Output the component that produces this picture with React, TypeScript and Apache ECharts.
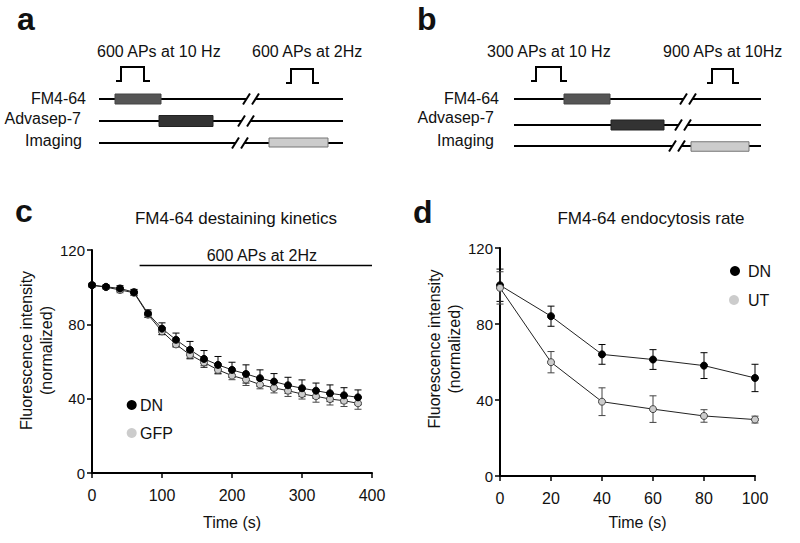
import React, { useEffect, useRef } from 'react';
import * as echarts from 'echarts';

// ---------- Data: panel c (FM4-64 destaining kinetics) ----------
const timeC = [0, 20, 40, 60, 80, 100, 120, 140, 160, 180, 200, 220, 240, 260, 280, 300, 320, 340, 360, 380];
const dnC = [101.1, 100.2, 99.3, 97.3, 85.8, 77.7, 71.7, 66.3, 61.4, 58.2, 55.5, 53.3, 51.0, 49.2, 47.2, 45.6, 44.3, 42.9, 41.8, 40.7];
const gfpC = [101.0, 100.0, 98.5, 97.0, 85.2, 76.2, 69.2, 63.6, 59.5, 55.5, 52.4, 50.3, 47.6, 45.8, 44.3, 42.5, 41.3, 39.8, 38.9, 37.5];
const dnCErr = [1.0, 1.0, 1.5, 1.5, 2.0, 3.1, 3.6, 4.5, 4.5, 4.5, 4.1, 4.9, 4.5, 4.3, 4.3, 4.5, 4.1, 4.5, 4.1, 4.0];
const gfpCErr = [1.0, 1.0, 1.5, 1.5, 1.5, 1.8, 1.5, 2.2, 1.6, 2.2, 2.2, 3.2, 2.3, 2.7, 3.1, 2.7, 3.2, 3.2, 3.1, 3.2];
const stimC = { label: '600 APs at 2Hz', from: 68, to: 400, level: 112 };

// ---------- Data: panel d (FM4-64 endocytosis rate) ----------
const timeD = [0, 20, 40, 60, 80, 100];
const dnD = [100.4, 84.1, 64.0, 61.3, 58.1, 51.6];
const utD = [99.0, 59.9, 39.1, 35.2, 31.6, 29.7];
const dnDErr = [8.5, 5.3, 5.2, 5.2, 6.8, 7.2];
const utDErr = [8.5, 5.6, 7.3, 7.0, 3.3, 1.8];

// ---------- Tick labels ----------
const xTicksC = { min: 0, max: 400, interval: 100 };
const xTicksD = { min: 0, max: 100, interval: 20 };
const yTicks = { min: 0, max: 120, interval: 40 };

const FONT = '"Liberation Sans", Arial, Helvetica, sans-serif';
const INK = '#111';

function errSeries(name: string, xs: number[], ys: number[], es: number[], idx: number, color: string) {
  return {
    type: 'custom',
    name,
    xAxisIndex: idx,
    yAxisIndex: idx,
    z: 1,
    silent: true,
    clip: false,
    data: xs.map((x, i) => [x, ys[i], es[i]]),
    encode: { x: 0, y: 1 },
    renderItem: (_p: any, api: any) => {
      const x = api.value(0);
      const y = api.value(1);
      const e = api.value(2);
      const a = api.coord([x, y + e]);
      const b = api.coord([x, y - e]);
      const w = 3.5;
      const style = { stroke: color, lineWidth: 1, fill: null };
      return {
        type: 'group',
        children: [
          { type: 'line', shape: { x1: a[0], y1: a[1], x2: b[0], y2: b[1] }, style },
          { type: 'line', shape: { x1: a[0] - w, y1: a[1], x2: a[0] + w, y2: a[1] }, style },
          { type: 'line', shape: { x1: b[0] - w, y1: b[1], x2: b[0] + w, y2: b[1] }, style },
        ],
      };
    },
  };
}

function lineSeries(name: string, xs: number[], ys: number[], idx: number, fill: string, border: string, extra: any = {}) {
  return {
    type: 'line',
    name,
    xAxisIndex: idx,
    yAxisIndex: idx,
    z: 3,
    data: xs.map((x, i) => [x, ys[i]]),
    symbol: 'circle',
    symbolSize: 7,
    lineStyle: { color: '#222', width: 1 },
    itemStyle: { color: fill, borderColor: border, borderWidth: 1 },
    ...extra,
  };
}

function xAxis(idx: number, t: any, nameGap: number, namePadLeft: number) {
  return {
    type: 'value',
    gridIndex: idx,
    min: t.min,
    max: t.max,
    interval: t.interval,
    name: 'Time (s)',
    nameLocation: 'middle',
    nameGap,
    nameTextStyle: { fontFamily: FONT, fontSize: 16, color: INK, padding: [0, 0, 0, namePadLeft] },
    axisLine: { show: true, lineStyle: { color: '#000', width: 2 } },
    axisTick: { show: true, inside: false, length: 5, lineStyle: { color: '#000', width: 1.5 } },
    axisLabel: { fontFamily: FONT, fontSize: 16, color: INK, margin: 14 },
    splitLine: { show: false },
  };
}

function yAxis(idx: number, nameGap: number, namePadLeft: number) {
  return {
    type: 'value',
    gridIndex: idx,
    min: yTicks.min,
    max: yTicks.max,
    interval: yTicks.interval,
    name: 'Fluorescence intensity\n(normalized)',
    nameLocation: 'middle',
    nameRotate: 90,
    nameGap,
    nameTextStyle: { fontFamily: FONT, fontSize: 16, color: INK, lineHeight: 20, align: 'center', padding: [0, 0, 0, namePadLeft] },
    axisLine: { show: true, lineStyle: { color: '#000', width: 2 } },
    axisTick: { show: true, inside: false, length: 5, lineStyle: { color: '#000', width: 1.5 } },
    axisLabel: { fontFamily: FONT, fontSize: 15, color: INK, margin: 7 },
    splitLine: { show: false },
  };
}

// ---------- Schematic helpers (panels a and b) ----------
function txt(text: string, x: number, y: number, align: string, size = 16, weight = 'normal') {
  return {
    type: 'text',
    x,
    y,
    silent: true,
    style: { text, fill: INK, fontFamily: FONT, fontSize: size, fontWeight: weight, align, verticalAlign: 'middle' },
  };
}

function pulse(x0: number, y: number, w: number) {
  const pts = [
    [x0, y],
    [x0 + 5, y],
    [x0 + 5, y - 14],
    [x0 + 5 + w, y - 14],
    [x0 + 5 + w, y],
    [x0 + 11 + w, y],
  ];
  return { type: 'polyline', silent: true, shape: { points: pts }, style: { stroke: '#000', lineWidth: 2, fill: null } };
}

function track(x1: number, x2: number, y: number, cx: number) {
  const s = { stroke: '#000', lineWidth: 2 };
  return [
    { type: 'line', silent: true, shape: { x1, y1: y, x2: cx - 4.5, y2: y }, style: s },
    { type: 'line', silent: true, shape: { x1: cx + 4.5, y1: y, x2, y2: y }, style: s },
    { type: 'line', silent: true, shape: { x1: cx - 8, y1: y + 5.5, x2: cx - 1, y2: y - 5.5 }, style: s },
    { type: 'line', silent: true, shape: { x1: cx + 1, y1: y + 5.5, x2: cx + 8, y2: y - 5.5 }, style: s },
  ];
}

function box(x1: number, x2: number, yc: number, h: number, fill: string, stroke: string) {
  return {
    type: 'rect',
    silent: true,
    z: 10,
    shape: { x: x1, y: yc - h / 2, width: x2 - x1, height: h },
    style: { fill, stroke, lineWidth: 1 },
  };
}

function dot(x: number, y: number, fill: string) {
  return { type: 'circle', silent: true, shape: { cx: x, cy: y, r: 5 }, style: { fill, stroke: null } };
}

const graphicEls: any[] = [
  // panel letters
  txt('a', 17, 19, 'left', 32, 'bold'),
  txt('b', 417, 19, 'left', 32, 'bold'),
  txt('c', 15, 211, 'left', 32, 'bold'),
  txt('d', 413, 212, 'left', 32, 'bold'),
  // panel a
  txt('600 APs at 10 Hz', 97, 51, 'left'),
  txt('600 APs at 2Hz', 252, 51, 'left'),
  pulse(116, 81, 23),
  pulse(286, 83, 22),
  txt('FM4-64', 86, 98, 'right'),
  txt('Advasep-7', 81, 118, 'right'),
  txt('Imaging', 82, 140, 'right'),
  ...track(99, 343, 99, 251),
  ...track(99, 343, 121, 246),
  ...track(99, 343, 143, 240),
  box(115, 161, 99, 10, '#555', '#444'),
  box(159, 213, 121, 11, '#333', '#222'),
  box(269, 328, 142.5, 9, '#cccccc', '#777'),
  // panel b
  txt('300 APs at 10 Hz', 487, 51, 'left'),
  txt('900 APs at 10Hz', 663, 51, 'left'),
  pulse(531, 81, 25),
  pulse(707, 83, 21),
  txt('FM4-64', 499, 98, 'right'),
  txt('Advasep-7', 494, 117, 'right'),
  txt('Imaging', 494, 140, 'right'),
  ...track(514, 761, 99, 688),
  ...track(514, 761, 125, 683),
  ...track(514, 761, 146, 677),
  box(564, 610, 99, 10, '#555', '#444'),
  box(611, 664, 125, 10, '#333', '#222'),
  box(691, 749, 146.5, 9.5, '#cccccc', '#777'),
  // legends
  dot(131.7, 405, '#000'),
  txt('DN', 140, 405, 'left', 16),
  dot(131.7, 433, '#cccccc'),
  txt('GFP', 140, 433, 'left', 16),
  dot(735, 271, '#000'),
  txt('DN', 748, 271, 'left', 16),
  dot(734, 300, '#cccccc'),
  txt('UT', 748, 300, 'left', 16),
];

const option: any = {
  animation: false,
  backgroundColor: '#fff',
  title: [
    { text: 'FM4-64 destaining kinetics', left: 231, top: 205, textAlign: 'center', textStyle: { fontFamily: FONT, fontSize: 17, fontWeight: 'normal', color: INK } },
    { text: 'FM4-64 endocytosis rate', left: 646, top: 205, textAlign: 'center', textStyle: { fontFamily: FONT, fontSize: 17, fontWeight: 'normal', color: INK } },
  ],
  grid: [
    { left: 92, top: 250, width: 280, height: 223 },
    { left: 500, top: 248, width: 255, height: 228 },
  ],
  xAxis: [xAxis(0, xTicksC, 41, 0), xAxis(1, xTicksD, 38, 20)],
  yAxis: [yAxis(0, 36, 22), yAxis(1, 32, 26)],
  graphic: { elements: graphicEls },
  series: [
    errSeries('GFP error', timeC, gfpC, gfpCErr, 0, '#444'),
    errSeries('DN error', timeC, dnC, dnCErr, 0, '#000'),
    lineSeries('GFP', timeC, gfpC, 0, '#cccccc', '#444'),
    lineSeries('DN', timeC, dnC, 0, '#000', '#000', {
      markLine: {
        silent: true,
        symbol: ['none', 'none'],
        lineStyle: { color: '#000', width: 1.3, type: 'solid' },
        label: { show: true, position: 'insideMiddleTop', distance: 1, padding: [0, 0, 0, 12], formatter: stimC.label, fontFamily: FONT, fontSize: 16, color: INK },
        data: [[{ coord: [stimC.from, stimC.level] }, { coord: [stimC.to, stimC.level] }]],
      },
    }),
    errSeries('DN error', timeD, dnD, dnDErr, 1, '#000'),
    errSeries('UT error', timeD, utD, utDErr, 1, '#444'),
    lineSeries('DN', timeD, dnD, 1, '#000', '#000'),
    lineSeries('UT', timeD, utD, 1, '#cccccc', '#444'),
  ],
};

export default function App() {
  const ref = useRef<HTMLDivElement>(null);
  useEffect(() => {
    const chart = echarts.init(ref.current as HTMLDivElement, null, { renderer: 'svg' });
    chart.setOption(option);
    return () => chart.dispose();
  }, []);
  return (
    <div
      ref={ref}
      style={{ position: 'absolute', left: 0, top: 0, width: 800, height: 543, background: '#fff' }}
    />
  );
}
